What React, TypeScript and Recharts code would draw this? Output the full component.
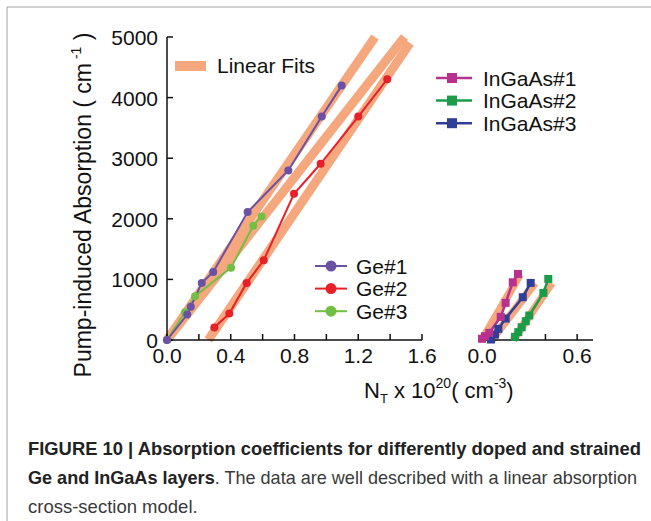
import React from 'react';
import { ComposedChart, Line, XAxis, YAxis } from 'recharts';

const FONT = '"Liberation Sans", Arial, Helvetica, sans-serif';
const FIT = '#f5a87e';
const INK = '#111';

// Ge samples: N_T (10^20 cm^-3) vs pump-induced absorption (cm^-1)
const ge1N = [0, 0.127, 0.149, 0.218, 0.29, 0.506, 0.761, 0.971, 1.096];
const ge1A = [0, 420, 547, 942, 1124, 2112, 2797, 3687, 4198];
const ge2N = [0.297, 0.391, 0.5, 0.607, 0.797, 0.964, 1.2, 1.382];
const ge2A = [206, 437, 942, 1315, 2413, 2908, 3687, 4303];
const ge3N = [0, 0.113, 0.176, 0.402, 0.541, 0.594];
const ge3A = [0, 458, 722, 1194, 1886, 2040];

// InGaAs samples
const in1N = [0, 0.019, 0.046, 0.118, 0.149, 0.194, 0.227];
const in1A = [20, 63, 118, 382, 613, 952, 1090];
const in2N = [0.208, 0.229, 0.25, 0.276, 0.298, 0.387, 0.418];
const in2A = [52, 130, 211, 310, 404, 777, 1008];
const in3N = [0.057, 0.082, 0.103, 0.149, 0.257, 0.307];
const in3A = [8, 90, 184, 354, 706, 942];

// linear fits (end points)
const fitGe1N = [0, 1.305];
const fitGe1A = [0, 5000];
const fitGe3N = [0, 1.49];
const fitGe3A = [0, 5000];
const fitGe2N = [0.259, 1.525];
const fitGe2A = [0, 4900];
const fitIn1N = [0, 0.24];
const fitIn1A = [0, 1080];
const fitIn2N = [0.197, 0.44];
const fitIn2A = [0, 940];
const fitIn3N = [0.061, 0.334];
const fitIn3A = [0, 940];

const yTicks = [0, 1000, 2000, 3000, 4000, 5000];
const yInner = [1000, 2000, 3000, 4000];
const geTicks = [0, 0.2, 0.4, 0.6, 0.8, 1.0, 1.2, 1.4, 1.6];
const geLabels = [0, 0.4, 0.8, 1.2, 1.6];
const inTicks = [0, 0.2, 0.4, 0.6];
const inLabels = [0, 0.6];

const COLORS = {
  ge1: '#6a51a3',
  ge2: '#e8202a',
  ge3: '#72bf44',
  in1: '#b8318f',
  in2: '#1a9c4b',
  in3: '#2f3e97',
};

const pts = (xs: number[], ys: number[]) => xs.map((x, i) => ({ x, y: ys[i] }));

const axisStyle = { stroke: INK, strokeWidth: 1.5 };

const xTick = (labels: number[]) => (p: any) => {
  const v = p.payload.value;
  if (!labels.some((l) => Math.abs(l - v) < 1e-6)) return <g />;
  return (
    <text x={p.x} y={p.y + 15} textAnchor="middle" fontSize={21} fontFamily={FONT} fill={INK}>
      {v.toFixed(1)}
    </text>
  );
};

const yTick = (p: any) => (
  <text x={p.x} y={p.y + 8} textAnchor="end" fontSize={21} fontFamily={FONT} fill={INK}>
    {p.payload.value}
  </text>
);

const noTick = () => <g />;

const square = (color: string) => (p: any) => {
  if (p.cx == null || p.cy == null) return <g key={p.index} />;
  return <rect key={p.index} x={p.cx - 4} y={p.cy - 4} width={8} height={8} fill={color} />;
};

const fitLine = (key: string, xs: number[], ys: number[], w = 9) => (
  <Line
    key={key}
    data={pts(xs, ys)}
    dataKey="y"
    stroke={FIT}
    strokeWidth={w}
    strokeLinecap="butt"
    dot={false}
    isAnimationActive={false}
    xAxisId="b"
    yAxisId="l"
  />
);

const geLine = (key: string, xs: number[], ys: number[], color: string) => (
  <Line
    key={key}
    data={pts(xs, ys)}
    dataKey="y"
    stroke={color}
    strokeWidth={2}
    dot={{ r: 4, fill: color, stroke: color, strokeWidth: 0 }}
    isAnimationActive={false}
    xAxisId="b"
    yAxisId="l"
  />
);

const inLine = (key: string, xs: number[], ys: number[], color: string) => (
  <Line
    key={key}
    data={pts(xs, ys)}
    dataKey="y"
    stroke={color}
    strokeWidth={2.5}
    dot={square(color)}
    isAnimationActive={false}
    xAxisId="b"
    yAxisId="l"
  />
);

const GePanel = () => (
  <ComposedChart width={440} height={400} margin={{ top: 37, right: 18, bottom: 20, left: 107 }}>
    <XAxis
      xAxisId="b"
      type="number"
      dataKey="x"
      domain={[0, 1.6]}
      ticks={geTicks}
      height={40}
      tickSize={-6}
      tickMargin={14}
      tick={xTick(geLabels)}
      axisLine={axisStyle}
      tickLine={axisStyle}
    />
    <XAxis
      xAxisId="t"
      orientation="top"
      type="number"
      domain={[0, 1.6]}
      ticks={geTicks}
      height={0}
      tickSize={-6}
      tick={noTick}
      axisLine={axisStyle}
      tickLine={axisStyle}
    />
    <YAxis
      yAxisId="l"
      type="number"
      domain={[0, 5000]}
      ticks={yTicks}
      width={60}
      tickSize={-6}
      tickMargin={15}
      tick={yTick}
      axisLine={axisStyle}
      tickLine={axisStyle}
    />
    <YAxis
      yAxisId="r"
      orientation="right"
      type="number"
      domain={[0, 5000]}
      width={0}
      tick={false}
      tickLine={false}
      axisLine={axisStyle}
    />
    {fitLine('f1', fitGe1N, fitGe1A)}
    {fitLine('f3', fitGe3N, fitGe3A)}
    {fitLine('f2', fitGe2N, fitGe2A)}
    {geLine('g3', ge3N, ge3A, COLORS.ge3)}
    {geLine('g2', ge2N, ge2A, COLORS.ge2)}
    {geLine('g1', ge1N, ge1A, COLORS.ge1)}
  </ComposedChart>
);

const InGaAsPanel = () => (
  <ComposedChart width={200} height={400} margin={{ top: 37, right: 47, bottom: 20, left: 42 }}>
    <XAxis
      xAxisId="b"
      type="number"
      dataKey="x"
      domain={[0, 0.7]}
      ticks={inTicks}
      height={40}
      tickSize={-6}
      tickMargin={14}
      tick={xTick(inLabels)}
      axisLine={axisStyle}
      tickLine={axisStyle}
    />
    <XAxis
      xAxisId="t"
      orientation="top"
      type="number"
      domain={[0, 0.7]}
      ticks={inTicks}
      height={0}
      tickSize={-6}
      tick={noTick}
      axisLine={axisStyle}
      tickLine={axisStyle}
    />
    <YAxis
      yAxisId="l"
      type="number"
      domain={[0, 5000]}
      width={0}
      tick={false}
      tickLine={false}
      axisLine={axisStyle}
    />
    <YAxis
      yAxisId="r"
      orientation="right"
      type="number"
      domain={[0, 5000]}
      ticks={yInner}
      width={0}
      tickSize={-6}
      tick={noTick}
      axisLine={axisStyle}
      tickLine={axisStyle}
    />
    {fitLine('f1', fitIn1N, fitIn1A, 8)}
    {fitLine('f3', fitIn3N, fitIn3A, 8)}
    {fitLine('f2', fitIn2N, fitIn2A, 8)}
    {inLine('i2', in2N, in2A, COLORS.in2)}
    {inLine('i3', in3N, in3A, COLORS.in3)}
    {inLine('i1', in1N, in1A, COLORS.in1)}
  </ComposedChart>
);

const geLegend = [
  { name: 'Ge#1', color: COLORS.ge1 },
  { name: 'Ge#2', color: COLORS.ge2 },
  { name: 'Ge#3', color: COLORS.ge3 },
];
const inLegend = [
  { name: 'InGaAs#1', color: COLORS.in1 },
  { name: 'InGaAs#2', color: COLORS.in2 },
  { name: 'InGaAs#3', color: COLORS.in3 },
];

const Overlay = () => (
  <svg
    width={651}
    height={521}
    style={{ position: 'absolute', left: 0, top: 0, pointerEvents: 'none' }}
    fontFamily={FONT}
  >
    <line x1={7} y1={7} x2={651} y2={7} stroke="#a0a0a0" strokeWidth={1} />
    <line x1={7} y1={7} x2={7} y2={521} stroke="#a0a0a0" strokeWidth={1} />

    {/* fit legend */}
    <rect x={175} y={61} width={31} height={10} fill={FIT} />
    <text x={217} y={73} fontSize={21} fill={INK}>Linear Fits</text>

    {geLegend.map((g, i) => {
      const y = 266 + i * 22.6;
      return (
        <g key={g.name}>
          <line x1={315} x2={347} y1={y} y2={y} stroke={g.color} strokeWidth={2} />
          <circle cx={331} cy={y} r={5.5} fill={g.color} />
          <text x={356} y={y + 7.5} fontSize={21} fill={INK}>{g.name}</text>
        </g>
      );
    })}

    {inLegend.map((g, i) => {
      const y = 78 + i * 22.6;
      return (
        <g key={g.name}>
          <line x1={436} x2={472} y1={y} y2={y} stroke={g.color} strokeWidth={2.5} />
          <rect x={447} y={y - 5} width={10} height={10} fill={g.color} />
          <text x={483} y={y + 7.5} fontSize={21} fill={INK}>{g.name}</text>
        </g>
      );
    })}

    {/* axis titles */}
    <text transform="rotate(-90)" x={-205} y={91} textAnchor="middle" fontSize={23} fill={INK}>
      Pump-induced Absorption ( cm
      <tspan dy={-10} fontSize={14}> -1</tspan>
      <tspan dy={10}> )</tspan>
    </text>
    <text x={364} y={398} fontSize={22} fill={INK}>
      N<tspan dy={5} fontSize={13}>T</tspan>
      <tspan dy={-5}> x 10</tspan>
      <tspan dy={-10} fontSize={14}>20</tspan>
      <tspan dy={10}>( cm</tspan>
      <tspan dy={-10} fontSize={14}>-3</tspan>
      <tspan dy={10}>)</tspan>
    </text>

    {/* caption */}
    <text x={28} y={455} fontSize={18.5} fontWeight="bold" fill="#222" textLength={613} lengthAdjust="spacingAndGlyphs">
      FIGURE 10 | Absorption coefficients for differently doped and strained
    </text>
    <text x={28} y={484} fontSize={18.5} fill="#3a3a3a" textLength={609} lengthAdjust="spacingAndGlyphs">
      <tspan fontWeight="bold" fill="#222">Ge and InGaAs layers</tspan>. The data are well described with a linear absorption
    </text>
    <text x={28} y={513} fontSize={18.5} fill="#3a3a3a">cross-section model.</text>
  </svg>
);

export default function App() {
  return (
    <div style={{ position: 'absolute', left: 0, top: 0, width: 651, height: 521, background: '#fff' }}>
      <div style={{ position: 'absolute', left: 0, top: 0 }}>
        <GePanel />
      </div>
      <div style={{ position: 'absolute', left: 440, top: 0 }}>
        <InGaAsPanel />
      </div>
      <Overlay />
    </div>
  );
}
